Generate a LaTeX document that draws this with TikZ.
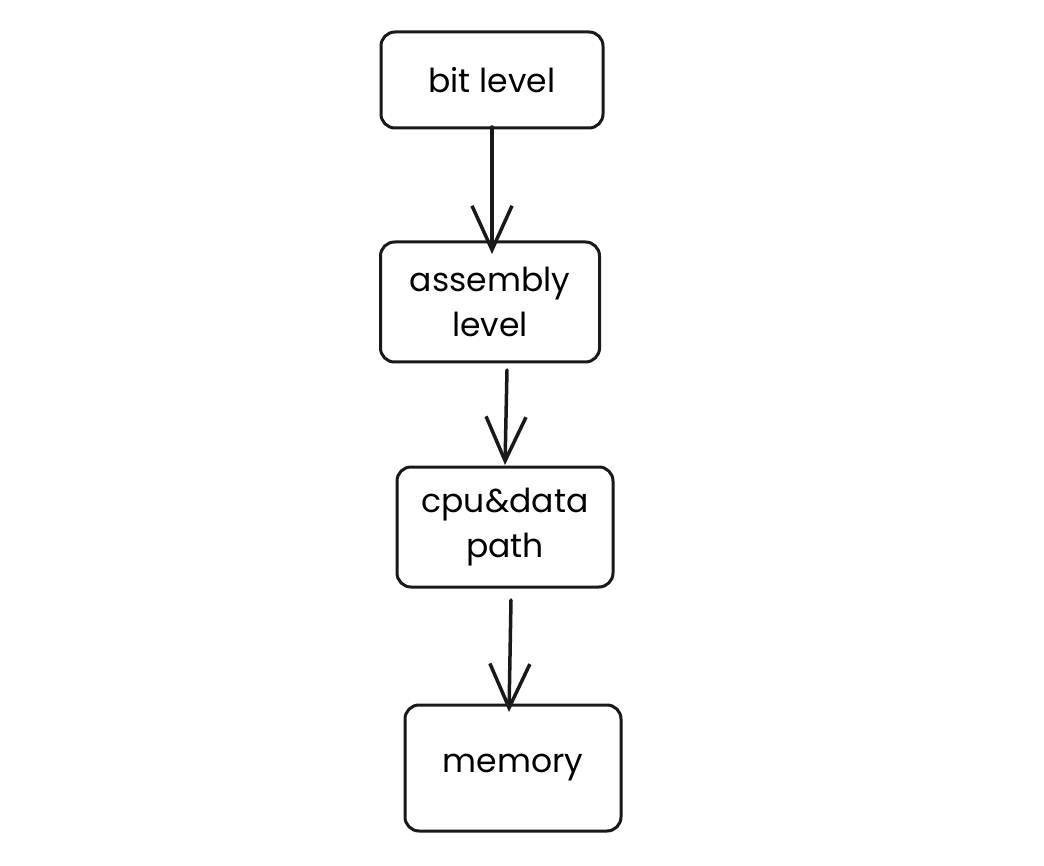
\documentclass[tikz,border=0pt]{standalone}
\usepackage{fontspec}
\setmainfont{Poppins}
\usetikzlibrary{arrows.meta}
\begin{document}
\begin{tikzpicture}[x=1pt,y=-1pt,
  box/.style={draw=black!90, line width=3pt, rounded corners=14pt, align=center, font=\fontsize{33}{45}\selectfont, inner sep=0pt},
  conn/.style={draw=black!90, line width=3.5pt, line cap=round, -{Straight Barb[length=44pt,width=40pt,line width=3.5pt]}}]
\useasboundingbox (0,0) rectangle (1044,866);
\fill[white] (0,0) rectangle (1044,866);
\node[box, minimum width=222pt, minimum height=96pt] (b1) at (492,80) {bit level};
\node[box, minimum width=219pt, minimum height=120pt] (b2) at (490,302) {assembly\\level};
\node[box, minimum width=216pt, minimum height=120pt] (b3) at (505,527) {cpu\&data\\path};
\node[box, minimum width=216pt, minimum height=126pt] (b4) at (513,768) {memory};
\coordinate (a1s) at (492,127);
\coordinate (a1e) at (492,254);
\coordinate (a2s) at (507,370);
\coordinate (a2e) at (505,465);
\coordinate (a3s) at (511,600);
\coordinate (a3e) at (509,712);
\draw[conn] (a1s) -- (a1e);
\draw[conn] (a2s) -- (a2e);
\draw[conn] (a3s) -- (a3e);
\end{tikzpicture}
\end{document}
